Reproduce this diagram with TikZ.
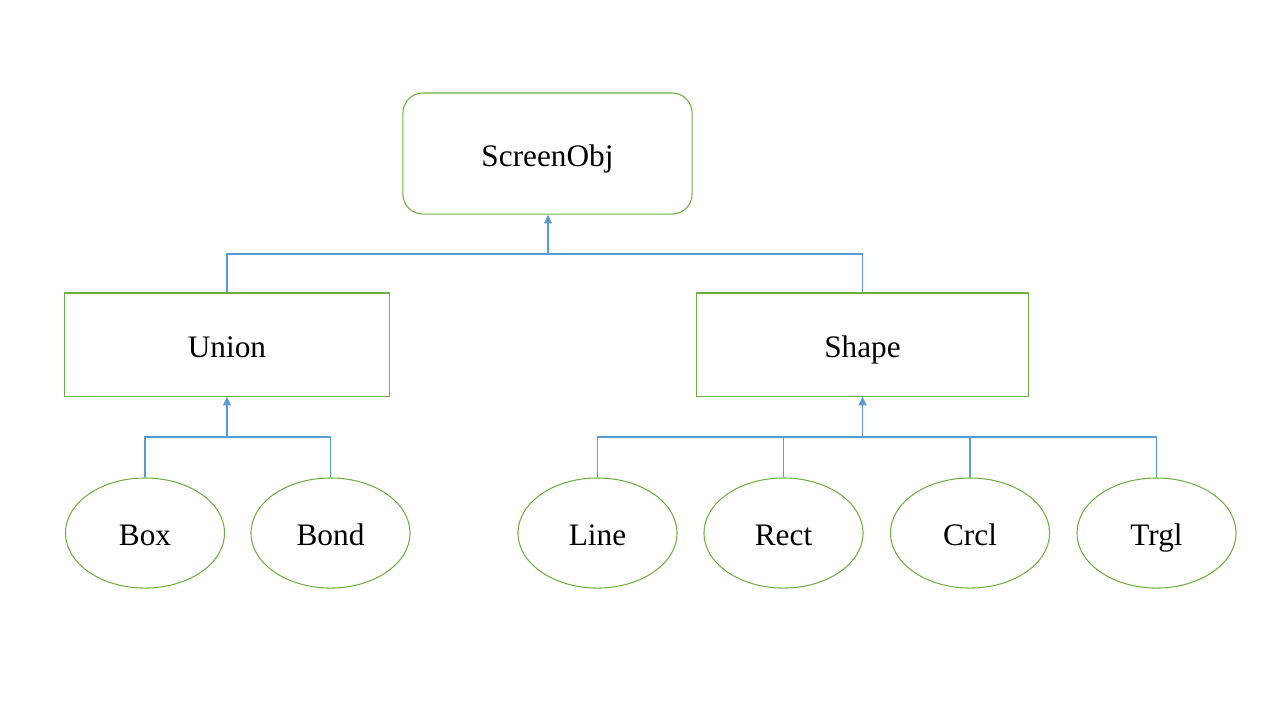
\documentclass[tikz,border=0pt]{standalone}
\usepackage{fontspec}
\setmainfont{Liberation Serif}
\usepackage{xcolor}
\usepackage{tikz}
\usetikzlibrary{positioning,shapes.geometric,arrows.meta}

\definecolor{boxgreen}{HTML}{70AD47}
\definecolor{linkblue}{HTML}{5B9BD5}

\begin{document}
\begin{tikzpicture}[x=0.01cm, y=-0.01cm, node distance = 0.27cm]
            \tikzstyle{every node} = [font=\fontsize{8.9}{10}\selectfont, inner sep=0pt, text height=1.9ex, text depth=0.3ex]
            \tikzstyle{root} = [draw=boxgreen, line width=0.3pt, rounded corners=0.2cm, minimum width=2.89cm, minimum height=1.21cm]
            \tikzstyle{group} = [draw=boxgreen, line width=0.3pt, minimum height=1.03cm]
            \tikzstyle{leaf} = [ellipse, draw=boxgreen, line width=0.3pt, minimum width=1.59cm, minimum height=1.10cm]
            \tikzstyle{bus} = [draw=linkblue, line width=0.35pt]
            \tikzstyle{up} = [bus, -{Triangle[width=2.2pt, length=2.5pt]}]
            \useasboundingbox (0,0) rectangle (1280,720);

            \node [root] (S0) at (547.5,153.5) {ScreenObj};

            \node [group, minimum width=3.24cm] (U) at (227,344.5) {Union};
            \node [group, minimum width=3.31cm] (S) at (862.5,344.5) {Shape};

            \node [leaf] (U1) at (145,533) {Box};
            \node [leaf] (U2) at (330.5,533) {Bond};
            \node [leaf] (S1) at (597.5,533) {Line};
            \node [leaf] (S2) at (783.5,533) {Rect};
            \node [leaf] (S3) at (970,533) {Crcl};
            \node [leaf] (S4) at (1156.5,533) {Trgl};

            \coordinate (J0) at (548,254);
            \coordinate (J1) at (227,437);
            \coordinate (J2) at (862.5,437);

            \draw [bus] (U) |- (J0) -| (S);
            \draw [up] (J0) -- (J0 |- S0.south);

            \draw [bus] (U1) |- (J1) -| (U2);
            \draw [up] (J1) -- (J1 |- U.south);

            \draw [bus] (S1) |- (J2) -| (S4);
            \draw [bus] (S2) -- (S2 |- J2);
            \draw [bus] (S3) -- (S3 |- J2);
            \draw [up] (J2) -- (J2 |- S.south);
        \end{tikzpicture}
\end{document}
